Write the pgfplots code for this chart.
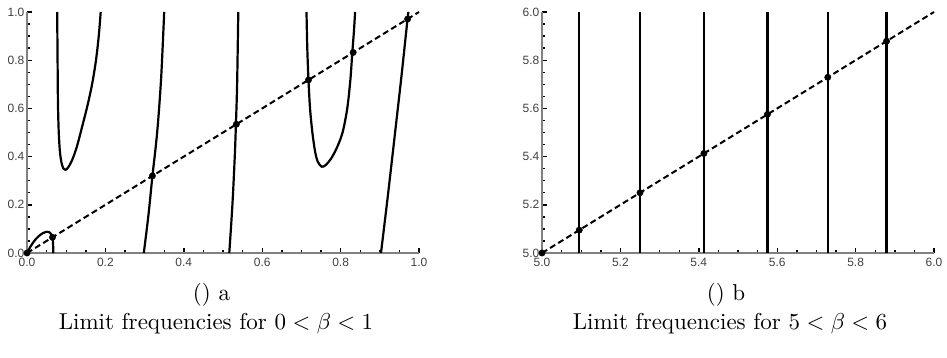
\documentclass[border=0pt]{standalone}
\usepackage{pgfplots}
\pgfplotsset{compat=1.18}
\usepackage{fontspec}
\newfontfamily\arial{Liberation Sans}
\pgfplotsset{
 mmastyle/.style={
  scale only axis, width=392pt, height=241pt,
  axis lines=left, axis line style={-, draw=gray, line width=1.8pt},
  tick align=inside,
  major tick length=5pt, minor tick length=3pt,
  every tick/.style={black, line width=1.4pt},
  minor tick num=3,
  tick label style={font=\arial\fontsize{12}{14}\selectfont, text=black!75},
  xticklabel style={inner sep=5pt},
  yticklabel style={inner sep=2.5pt},
  /pgf/number format/assume math mode=true,
  /pgf/number format/fixed, /pgf/number format/fixed zerofill,
  /pgf/number format/precision=1,
  clip=false,
 },
 curve/.style={black, line width=2.2pt, no marks},
 diag/.style={black, line width=2pt, no marks, dash pattern=on 6pt off 3.5pt},
 dots/.style={only marks, mark=*, mark size=3.2pt, black},
}
\tikzset{capnode/.style={anchor=base, inner sep=0pt, scale=2.3, font=\fontsize{10}{12}\selectfont}}
\begin{document}
\begin{tikzpicture}
\useasboundingbox (0pt,0pt) rectangle (947pt,357pt);
\begin{axis}[mmastyle, at={(27pt,104pt)}, anchor=south west,
  xmin=0, xmax=1, ymin=0, ymax=1,
  xtick={0,0.2,0.4,0.6,0.8,1}, ytick={0,0.2,0.4,0.6,0.8,1}]
\addplot[curve, smooth] coordinates {(0,0) (0.01,0.03) (0.02,0.053) (0.03,0.07) (0.04,0.082) (0.05,0.088) (0.056,0.087) (0.061,0.08) (0.064,0.07)};
\addplot[curve] coordinates {(0.064,0.07) (0.066,0.05) (0.067,0.02) (0.067,0)};
\addplot[curve, smooth] coordinates {(0.077,1.0) (0.078,0.8) (0.079,0.62) (0.081,0.5) (0.084,0.42) (0.088,0.375) (0.093,0.35) (0.098,0.345) (0.105,0.355) (0.115,0.385) (0.127,0.44) (0.14,0.52) (0.154,0.61) (0.166,0.7) (0.176,0.8) (0.183,0.9) (0.188,1.0)};
\addplot[curve, smooth] coordinates {(0.298,0) (0.31,0.16) (0.32,0.32) (0.327,0.42) (0.332,0.5) (0.337,0.6) (0.343,0.75) (0.350,1.0)};
\addplot[curve, smooth] coordinates {(0.516,0) (0.524,0.2) (0.530,0.4) (0.533,0.535) (0.536,0.7) (0.539,1.0)};
\addplot[curve, smooth] coordinates {(0.713,1.0) (0.715,0.85) (0.718,0.72) (0.722,0.6) (0.728,0.5) (0.735,0.42) (0.742,0.378) (0.752,0.358) (0.762,0.365) (0.775,0.39) (0.79,0.435) (0.805,0.5) (0.817,0.6) (0.825,0.72) (0.830,0.835) (0.834,0.92) (0.837,1.0)};
\addplot[curve, smooth] coordinates {(0.903,0) (0.92,0.23) (0.939,0.5) (0.955,0.73) (0.971,0.974) (0.973,0.998)};
\addplot[diag] coordinates {(0,0) (1,1)};
\addplot[dots] coordinates {(0,0) (0.065,0.065) (0.32,0.32) (0.534,0.534) (0.718,0.718) (0.832,0.832) (0.971,0.971)};
\end{axis}
\begin{axis}[mmastyle, at={(542pt,104pt)}, anchor=south west,
  xmin=5, xmax=6, ymin=5, ymax=6,
  xtick={5,5.2,5.4,5.6,5.8,6}, ytick={5,5.2,5.4,5.6,5.8,6}]
\addplot[curve] coordinates {(5.095,5) (5.095,6)};
\addplot[curve] coordinates {(5.25,5) (5.25,6)};
\addplot[curve] coordinates {(5.413,5) (5.413,6)};
\addplot[curve] coordinates {(5.575,5) (5.575,6)};
\addplot[curve] coordinates {(5.729,5) (5.729,6)};
\addplot[curve] coordinates {(5.879,5) (5.879,6)};
\addplot[diag] coordinates {(5,5) (6,6)};
\addplot[dots] coordinates {(5,5) (5.095,5.095) (5.25,5.25) (5.413,5.413) (5.575,5.575) (5.729,5.729) (5.879,5.879)};
\end{axis}
\node[capnode] at (211.5pt,56.7pt) {() a};
\node[capnode] at (216pt,28pt) {Limit frequencies for $0<\beta<1$};
\node[capnode] at (726pt,56.7pt) {() b};
\node[capnode] at (730pt,28pt) {Limit frequencies for $5<\beta<6$};
\end{tikzpicture}
\end{document}
